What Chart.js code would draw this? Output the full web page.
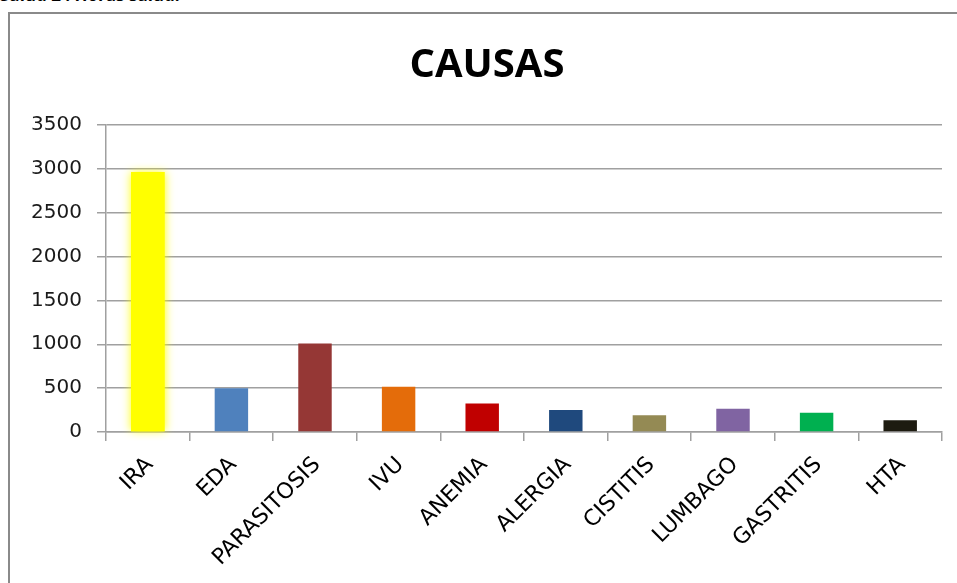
<!DOCTYPE html>
<html>
<head>
<meta charset="utf-8">
<script src="https://cdn.jsdelivr.net/npm/chart.js@4/dist/chart.umd.min.js"></script>
<style>
  html, body { margin: 0; padding: 0; background: #fff; overflow: hidden; }
  #wrap { position: relative; width: 957px; height: 583px; overflow: hidden; }
  #top { position: absolute; left: 0; top: -17px; font: bold 17px "Open Sans", sans-serif; color: #000; white-space: nowrap; }
  #frame { position: absolute; left: 8px; top: 12px; width: 1000px; height: 700px; border: 2px solid #8a8a8a; box-sizing: border-box; }
  #c { position: absolute; left: 0; top: 0; }
</style>
</head>
<body>
<div id="wrap">
  <div id="top">Salud 2 : Horas salud.</div>
  <div id="frame"></div>
  <canvas id="c" width="957" height="583"></canvas>
</div>
<script>
const titleText = 'CAUSAS';
const categories = ['IRA', 'EDA', 'PARASITOSIS', 'IVU', 'ANEMIA', 'ALERGIA', 'CISTITIS', 'LUMBAGO', 'GASTRITIS', 'HTA'];
const values = [2965, 500, 1010, 515, 325, 250, 190, 265, 220, 133];
const barColors = ['#FFFF00', '#4F81BD', '#953735', '#E46C0A', '#C00000', '#1F497D', '#948A54', '#8064A2', '#00B050', '#1D1B10'];
const yTicks = [0, 500, 1000, 1500, 2000, 2500, 3000, 3500];

const glowPlugin = {
  id: 'glow',
  afterDatasetsDraw(chart) {
    const meta = chart.getDatasetMeta(0);
    const el = meta.data[0];
    const ctx = chart.ctx;
    ctx.save();
    ctx.shadowColor = 'rgba(255,255,0,0.95)';
    ctx.shadowBlur = 9;
    el.draw(ctx);
    ctx.restore();
  }
};

const titlePlugin = {
  id: 'customTitle',
  afterDraw(chart) {
    const ctx = chart.ctx;
    ctx.save();
    ctx.font = 'bold 40px "Open Sans"';
    ctx.fillStyle = '#000';
    ctx.textAlign = 'center';
    ctx.textBaseline = 'alphabetic';
    ctx.fillText(titleText, 487, 77);
    ctx.restore();
  }
};

new Chart(document.getElementById('c'), {
  type: 'bar',
  data: {
    labels: categories,
    datasets: [{
      data: values,
      backgroundColor: barColors,
      borderWidth: 0,
      barPercentage: 0.4,
      categoryPercentage: 1.0
    }]
  },
  options: {
    responsive: false,
    animation: false,
    events: [],
    layout: { padding: { left: 20, right: 15, top: 125, bottom: 0 } },
    plugins: {
      legend: { display: false },
      tooltip: { enabled: false },
      title: { display: false }
    },
    scales: {
      x: {
        grid: {
          offset: true,
          drawOnChartArea: false,
          drawTicks: true,
          tickLength: 9,
          color: '#a0a0a0',
          lineWidth: 1.5
        },
        border: { color: '#a0a0a0', width: 1.5 },
        ticks: {
          color: '#000',
          font: { family: '"DejaVu Sans"', size: 22 },
          minRotation: 45,
          maxRotation: 45,
          padding: 11,
          labelOffset: 2,
          autoSkip: false
        },
        afterFit(scale) { scale.height = 583 - 432; }
      },
      y: {
        min: 0,
        max: 3500,
        afterBuildTicks(scale) { scale.ticks = yTicks.map(v => ({ value: v })); },
        grid: {
          color: '#a0a0a0',
          lineWidth: 1.5,
          drawTicks: true,
          tickLength: 9
        },
        border: { color: '#a0a0a0', width: 1.5 },
        ticks: {
          color: '#1a1a1a',
          font: { family: '"DejaVu Sans"', size: 20 },
          padding: 15,
          callback: v => String(v)
        },
        afterFit(scale) { scale.width = 86; }
      }
    }
  },
  plugins: [glowPlugin, titlePlugin]
});
</script>
</body>
</html>
